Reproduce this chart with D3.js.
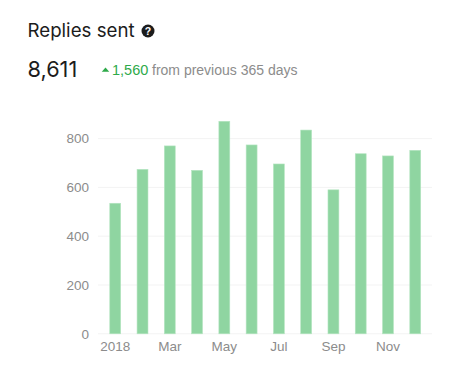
<!DOCTYPE html>
<html>
<head>
<meta charset="utf-8">
<script src="https://cdn.jsdelivr.net/npm/d3@7"></script>
<style>
  html, body { margin: 0; padding: 0; background: #fff; }
  svg { display: block; }
</style>
</head>
<body>
<div id="chart"></div>
<script>
// Values
const months = ["Jan", "Feb", "Mar", "Apr", "May", "Jun", "Jul", "Aug", "Sep", "Oct", "Nov", "Dec"];
const replies = [535, 674, 770, 670, 871, 774, 696, 835, 590, 738, 729, 752];
const yTicks = [0, 200, 400, 600, 800];
const xTickMonths = ["Jan", "Mar", "May", "Jul", "Sep", "Nov"];
const xTickNames = { Jan: "2018" };

const width = 450, height = 368;
const sans = "'Liberation Sans', sans-serif";

const svg = d3.select("#chart").append("svg")
    .attr("width", width)
    .attr("height", height);

// Header
svg.append("text")
    .attr("x", 27.5).attr("y", 37)
    .style("font", "18.7px Inter, sans-serif")
    .attr("fill", "#1c1c1c")
    .text("Replies sent");

// Help icon
const help = svg.append("g").attr("transform", "translate(148,31)");
help.append("circle").attr("r", 6.5).attr("fill", "#1c1c1c");
help.append("text")
    .attr("text-anchor", "middle")
    .attr("y", 3.7)
    .style("font", "bold 10.5px " + sans)
    .attr("fill", "#fff")
    .text("?");

svg.append("text")
    .attr("x", 27.5).attr("y", 77)
    .style("font", "21.7px Inter, sans-serif")
    .attr("fill", "#1c1c1c")
    .text("8,611");

svg.append("path")
    .attr("d", d3.symbol(d3.symbolTriangle, 22))
    .attr("transform", "translate(105.5,70.3) scale(1.05,0.7)")
    .attr("fill", "#2eaa4a");

svg.append("text")
    .attr("x", 112).attr("y", 75)
    .style("font", "14.5px " + sans)
    .attr("fill", "#2eaa4a")
    .text("1,560");

svg.append("text")
    .attr("x", 152).attr("y", 75)
    .style("font", "14px " + sans)
    .attr("fill", "#8c8c8c")
    .text("from previous 365 days");

// Scales
const x = d3.scaleBand()
    .domain(months)
    .range([101.6, 428.9])
    .paddingInner(0.6)
    .paddingOuter(0.3);

const y = d3.scaleLinear()
    .domain([0, 800])
    .range([333.8, 138.6]);

// Grid lines
svg.append("g")
    .selectAll("line")
    .data(yTicks)
    .enter().append("line")
    .attr("x1", 98)
    .attr("x2", 432)
    .attr("y1", d => y(d))
    .attr("y2", d => y(d))
    .attr("stroke", "#f3f3f3")
    .attr("stroke-width", 1);

// Bars
svg.append("g")
    .selectAll("rect")
    .data(replies)
    .enter().append("rect")
    .attr("x", (d, i) => x(months[i]))
    .attr("y", d => y(d))
    .attr("width", x.bandwidth())
    .attr("height", d => y(0) - y(d))
    .attr("fill", "#8fd5a1")
    .attr("stroke", "#b5e5c1")
    .attr("stroke-width", 0.6);

// Axes
const yAxis = d3.axisLeft(y).tickValues(yTicks).tickSize(0).tickPadding(0);
const gy = svg.append("g")
    .attr("transform", "translate(89,0)")
    .call(yAxis);
gy.select(".domain").remove();
gy.selectAll("text")
    .style("font", "13.5px " + sans)
    .attr("fill", "#8c8c8c");

const xAxis = d3.axisBottom(x)
    .tickValues(xTickMonths)
    .tickFormat(d => xTickNames[d] || d)
    .tickSize(0)
    .tickPadding(0);
const gx = svg.append("g")
    .attr("transform", "translate(0,341)")
    .call(xAxis);
gx.select(".domain").remove();
gx.selectAll("text")
    .style("font", "13.5px " + sans)
    .attr("fill", "#8c8c8c");
</script>
</body>
</html>
